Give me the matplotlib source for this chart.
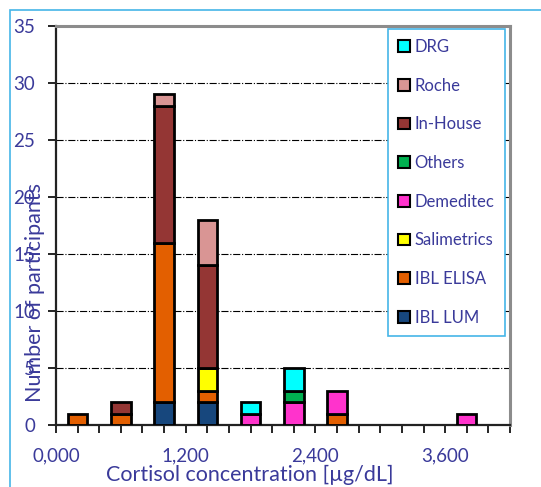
import matplotlib
matplotlib.use("Agg")
import matplotlib.pyplot as plt
from matplotlib.patches import Rectangle, Patch
import numpy as np

plt.rcParams['font.family'] = ['Lato', 'DejaVu Sans']

# Data
bins = [0.2, 0.6, 1.0, 1.4, 1.8, 2.2, 2.6, 3.8]
ibl_lum = [0, 0, 2, 2, 0, 0, 0, 0]
ibl_elisa = [1, 1, 14, 1, 0, 0, 1, 0]
salimetrics = [0, 0, 0, 2, 0, 0, 0, 0]
demeditec = [0, 0, 0, 0, 1, 2, 2, 1]
others = [0, 0, 0, 0, 0, 1, 0, 0]
in_house = [0, 1, 12, 9, 0, 0, 0, 0]
roche = [0, 0, 1, 4, 0, 0, 0, 0]
drg = [0, 0, 0, 0, 1, 2, 0, 0]

series_names = ["IBL LUM", "IBL ELISA", "Salimetrics", "Demeditec", "Others", "In-House", "Roche", "DRG"]
series_values = [ibl_lum, ibl_elisa, salimetrics, demeditec, others, in_house, roche, drg]
colors = ["#17477d", "#e35f00", "#ffff00", "#ff33cc", "#00b050", "#943634", "#d99594", "#00ffff"]

xtick_positions = [0.0, 1.2, 2.4, 3.6]
xtick_labels = ["0,000", "1,200", "2,400", "3,600"]
yticks = [0, 5, 10, 15, 20, 25, 30, 35]

txt_color = "#3a3a9a"

W, H = 541, 487
fig = plt.figure(figsize=(W / 100, H / 100), dpi=100)
ax = fig.add_axes([56 / W, 1 - 425 / H, (510 - 56) / W, (425 - 26) / H])

bottom = np.zeros(len(bins))
for name, vals, c in zip(series_names, series_values, colors):
    vals = np.array(vals, dtype=float)
    mask = vals > 0
    ax.bar(np.array(bins)[mask], vals[mask], width=0.18, bottom=bottom[mask],
           color=c, edgecolor="black", linewidth=2.0, zorder=3)
    bottom += vals

ax.set_xlim(0, 4.2)
ax.set_ylim(0, 35)

# grid
for y in [5, 10, 15, 20, 25, 30]:
    ax.axhline(y, color="black", linestyle="-.", linewidth=0.8, zorder=1)

# ticks
all_x = np.round(np.arange(0, 4.21, 0.2), 2)
ax.set_xticks(all_x)
labels = []
for v in all_x:
    lab = ""
    for p, l in zip(xtick_positions, xtick_labels):
        if abs(v - p) < 1e-6:
            lab = l
    labels.append(lab)
ax.set_xticklabels(labels, fontsize=13.5, color=txt_color)
ax.set_yticks(yticks)
ax.set_yticklabels([str(v) for v in yticks], fontsize=13.5, color=txt_color)
ax.tick_params(axis='x', direction='out', length=6, width=1.2, color='black', pad=10)
ax.tick_params(axis='y', direction='out', length=6, width=1.2, color='black', pad=9)

for s in ['left', 'bottom']:
    ax.spines[s].set_color('#222222')
    ax.spines[s].set_linewidth(1.6)
for s in ['top', 'right']:
    ax.spines[s].set_color('#8c8c8c')
    ax.spines[s].set_linewidth(2.2)

fig.text(35 / W, 1 - 293 / H, "Number of participants", rotation=90, ha='center', va='center',
         fontsize=15.5, color=txt_color)
fig.text(250 / W, 1 - 475 / H, "Cortisol concentration [µg/dL]", ha='center', va='center',
         fontsize=15.5, color=txt_color)

# legend
handles = [Patch(facecolor=c, edgecolor='black', linewidth=1.5) for c in colors][::-1]
names = series_names[::-1]
leg = ax.legend(handles, names, loc='upper left',
                bbox_to_anchor=((388 - 56) / (510 - 56), 1 - (29 - 26) / (425 - 26)),
                fontsize=12, labelcolor=txt_color, frameon=True, fancybox=False,
                edgecolor='#45b5e8', framealpha=1, labelspacing=1.36,
                handlelength=0.7, handleheight=0.7, handletextpad=0.3,
                borderpad=0.6, borderaxespad=0)
leg.get_frame().set_linewidth(1.2)
leg.set_zorder(5)

# figure border
fig.add_artist(Rectangle((10 / W, -0.1), 1.2, 1 - 10 / H + 0.1, transform=fig.transFigure,
                         fill=False, edgecolor='#45b5e8', linewidth=1.2))

fig.savefig("out.png", dpi=100)
